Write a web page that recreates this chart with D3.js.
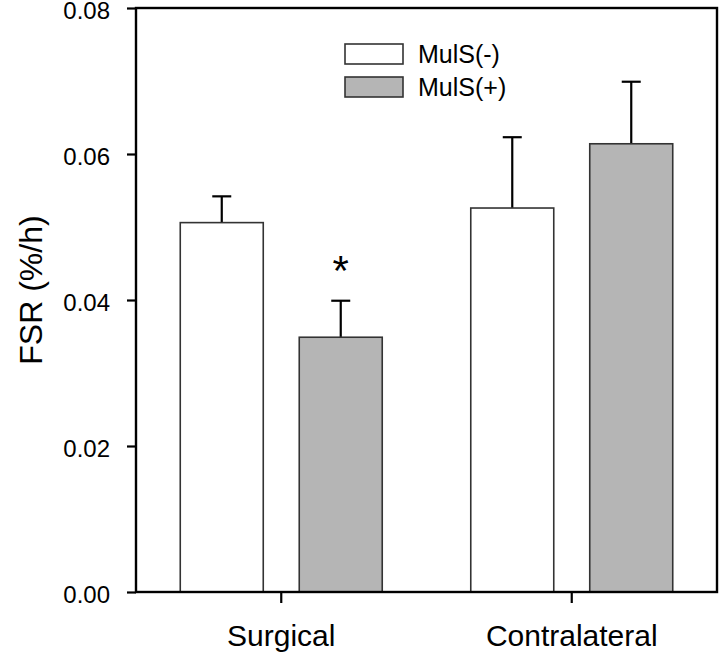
<!DOCTYPE html>
<html>
<head>
<meta charset="utf-8">
<script src="https://cdn.jsdelivr.net/npm/d3@7"></script>
<style>
  html, body { margin: 0; padding: 0; background: #fff; }
  text { font-family: "Liberation Sans", Arial, Helvetica, sans-serif; }
</style>
</head>
<body>
<svg id="chart" width="720" height="652"></svg>
<script>
const categories = ["Surgical", "Contralateral"];
const seriesNames = ["MulS(-)", "MulS(+)"];
const seriesColors = ["#ffffff", "#b5b5b5"];
const mulsMinus = [0.0506, 0.0526];
const mulsPlus = [0.0349, 0.0614];
const errMinus = [0.0036, 0.0097];
const errPlus = [0.0050, 0.0085];
const yTicks = [0, 0.02, 0.04, 0.06, 0.08];
const yTickLabels = ["0.00", "0.02", "0.04", "0.06", "0.08"];
const significance = [{ category: "Surgical", series: 1, label: "*" }];

const svg = d3.select("#chart");
const x0 = 136, x1 = 717, yTop = 8, yBot = 592;

const y = d3.scaleLinear().domain([0, 0.08]).range([yBot, yTop]);
const xCat = d3.scaleBand().domain(categories).range([x0, x1]).padding(0);
const xSub = d3.scaleBand().domain(seriesNames).range([0, xCat.bandwidth()])
  .paddingInner(0.3025).paddingOuter(0.372);

const data = [];
categories.forEach((c, i) => {
  data.push({ cat: c, s: seriesNames[0], v: mulsMinus[i], e: errMinus[i], color: seriesColors[0] });
  data.push({ cat: c, s: seriesNames[1], v: mulsPlus[i], e: errPlus[i], color: seriesColors[1] });
});

const g = svg.append("g");

// error bars
const capW = 19;
data.forEach(d => {
  const cx = xCat(d.cat) + xSub(d.s) + xSub.bandwidth() / 2;
  g.append("line").attr("x1", cx).attr("x2", cx)
    .attr("y1", y(d.v)).attr("y2", y(d.v + d.e))
    .attr("stroke", "#000").attr("stroke-width", 2.2);
  g.append("line").attr("x1", cx - capW / 2).attr("x2", cx + capW / 2)
    .attr("y1", y(d.v + d.e)).attr("y2", y(d.v + d.e))
    .attr("stroke", "#000").attr("stroke-width", 2.2);
});

// bars
g.selectAll("rect.bar").data(data).enter().append("rect")
  .attr("class", "bar")
  .attr("x", d => xCat(d.cat) + xSub(d.s))
  .attr("width", xSub.bandwidth())
  .attr("y", d => y(d.v))
  .attr("height", d => y(0) - y(d.v))
  .attr("fill", d => d.color)
  .attr("stroke", "#333")
  .attr("stroke-width", 1.6);

// significance marker
significance.forEach(s => {
  const idx = categories.indexOf(s.category);
  const d = data[idx * 2 + s.series];
  const cx = xCat(d.cat) + xSub(d.s) + xSub.bandwidth() / 2;
  g.append("text").attr("x", cx).attr("y", y(d.v + d.e) - 16)
    .attr("text-anchor", "middle")
    .attr("font-size", 42).attr("fill", "#000").text(s.label);
});

// y axis
const yAxis = d3.axisLeft(y).tickValues(yTicks)
  .tickFormat((d, i) => yTickLabels[i]).tickSize(9).tickPadding(17);
const ya = svg.append("g").attr("transform", `translate(${x0},0)`).call(yAxis);
ya.select(".domain").remove();
ya.selectAll(".tick line").attr("stroke", "#000").attr("stroke-width", 2.2);
ya.selectAll(".tick text").attr("font-size", 24).attr("fill", "#000")
  .attr("dy", "0.44em")
  .attr("font-family", "'Liberation Sans', Arial, sans-serif");

// x axis
const xAxis = d3.axisBottom(xCat).tickSize(11).tickPadding(22);
const xa = svg.append("g").attr("transform", `translate(0,${yBot})`).call(xAxis);
xa.select(".domain").remove();
xa.selectAll(".tick line").attr("stroke", "#000").attr("stroke-width", 2.2);
xa.selectAll(".tick text").attr("font-size", 30).attr("fill", "#000")
  .attr("font-family", "'Liberation Sans', Arial, sans-serif");

// frame
svg.append("rect").attr("x", x0).attr("y", yTop)
  .attr("width", x1 - x0).attr("height", yBot - yTop)
  .attr("fill", "none").attr("stroke", "#000").attr("stroke-width", 2.4);

// y title
svg.append("text")
  .attr("transform", `translate(42,${(yTop + yBot) / 2 - 10}) rotate(-90)`)
  .attr("text-anchor", "middle")
  .attr("font-size", 32).attr("fill", "#000")
  .text("FSR (%/h)");

// legend
const legX = 345, legY = 44, legW = 58, legH = 20, legGap = 33;
seriesNames.forEach((name, i) => {
  svg.append("rect").attr("x", legX).attr("y", legY + i * legGap)
    .attr("width", legW).attr("height", legH)
    .attr("fill", seriesColors[i]).attr("stroke", "#333").attr("stroke-width", 1.6);
  svg.append("text").attr("x", legX + legW + 15).attr("y", legY + i * legGap + legH / 2)
    .attr("dy", "0.36em").attr("font-size", 25).attr("fill", "#000").text(name);
});
</script>
</body>
</html>
